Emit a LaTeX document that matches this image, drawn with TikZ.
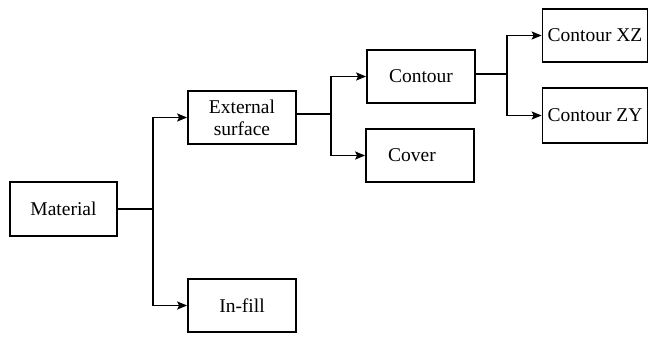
\documentclass[tikz,border=0pt]{standalone}
\usepackage{fontspec}
\setmainfont{Liberation Serif}
\usetikzlibrary{arrows.meta}
\begin{document}
\begin{tikzpicture}[x=1pt,y=-1pt,
  box/.style={draw,line width=1.7pt,minimum width=#1,minimum height=53pt,inner sep=0pt,
    font=\fontsize{19.5}{22}\selectfont,align=center},
  box/.default=108pt,
  link/.style={line width=1.8pt},
  arr/.style={link,-{Stealth[length=10pt,width=8pt,inset=2pt]}}]
\useasboundingbox (0,0) rectangle (649,337);
% boxes
\node[box=107pt,minimum height=54pt] (mat) at (63.5,209) {Material};
\node[box] (ext) at (242,117.5) {External\\surface};
\node[box] (inf) at (242,305.5) {In-fill};
\node[box] (con) at (421,76.5) {Contour};
\node[box] (cov) at (420,155.5) {\hspace*{-16pt}Cover};
\node[box=105pt] (cxz) at (595,35.5) {Contour XZ};
\node[box=105pt,minimum height=55pt] (czy) at (595,115.5) {Contour ZY};
% junction points
\coordinate (j1) at (153,209);
\coordinate (j2) at (331,114);
\coordinate (j3) at (507,74);
% connectors
\draw[link] (mat.east) -- (j1);
\draw[arr] (j1) |- (ext.west);
\draw[arr] (j1) |- (inf.west);
\draw[link] (ext.east |- j2) -- (j2);
\draw[arr] (j2) |- (con.west);
\draw[arr] (j2) |- (cov.west);
\draw[link] (con.east |- j3) -- (j3);
\draw[arr] (j3) |- (cxz.west);
\draw[arr] (j3) |- (czy.west);
\end{tikzpicture}
\end{document}
